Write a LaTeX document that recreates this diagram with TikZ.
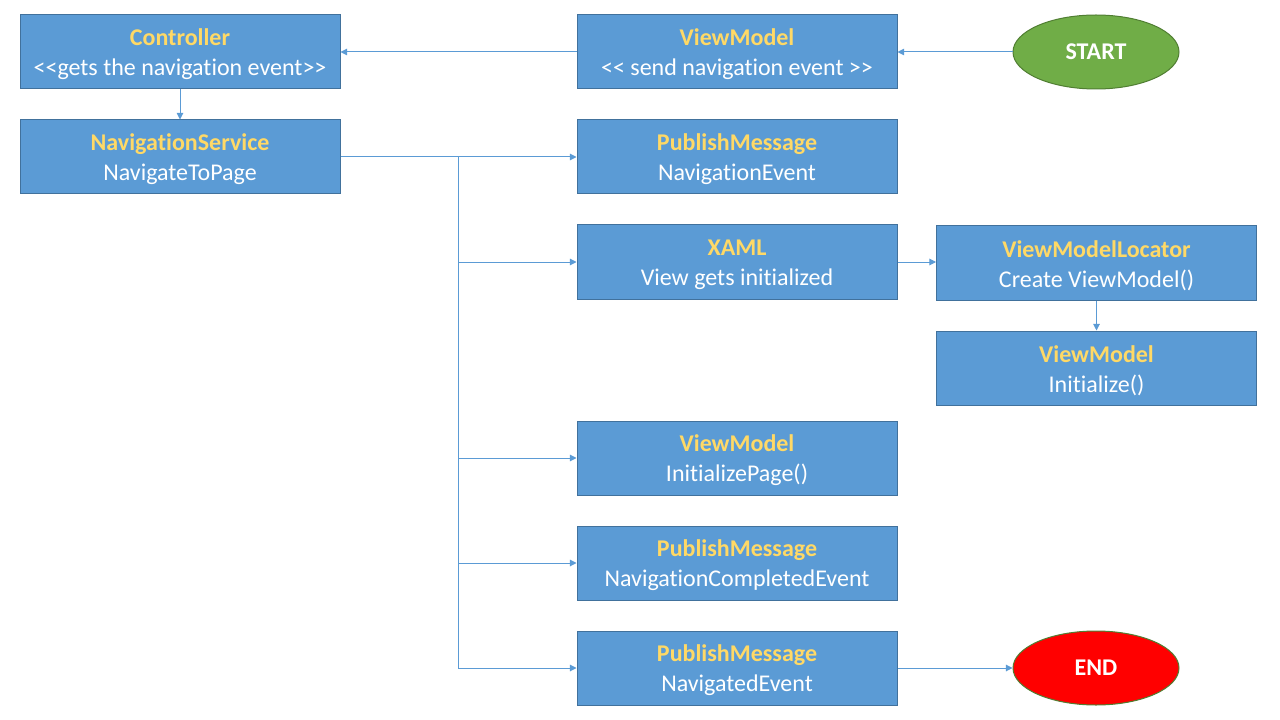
\documentclass[tikz,border=0pt]{standalone}
\usepackage{fontspec}
\setmainfont{Carlito}[Ligatures=NoCommon]
\usetikzlibrary{shapes.geometric,arrows.meta}
\definecolor{boxfill}{HTML}{5B9BD5}
\definecolor{boxline}{HTML}{41719C}
\definecolor{titleyel}{HTML}{FFD966}
\definecolor{startgreen}{HTML}{70AD47}
\definecolor{startline}{HTML}{507E32}
\definecolor{endred}{HTML}{FF0000}
\definecolor{conn}{HTML}{5B9BD5}
\tikzset{
  box/.style={draw=boxline, line width=0.75pt, fill=boxfill, minimum width=240pt, minimum height=55.5pt,
    inner sep=0pt, align=center, text=white, font=\fontsize{18}{22.5}\selectfont},
  oval/.style={ellipse, draw=startline, line width=0.75pt, minimum width=124.5pt, minimum height=55.5pt,
    inner sep=0pt, text=white, font=\fontsize{18}{22}\selectfont\bfseries},
  arr/.style={draw=conn, line width=0.75pt, -{Triangle[length=5pt,width=5pt]}},
}
\newcommand{\ttl}[1]{\rule{0pt}{16pt}\textcolor{titleyel}{\textbf{#1}}}
\begin{document}
\begin{tikzpicture}[x=0.75pt,y=-0.75pt]
\useasboundingbox (0,0) rectangle (1280,720);
\node[box] (ctrl) at (180,52) {\ttl{Controller}\\<{}<gets the navigation event>{}>};
\node[box] (vm1) at (737,52) {\ttl{ViewModel}\\<{}< send navigation event >{}>};
\node[oval, fill=startgreen] (start) at (1096,52) {START};
\node[box] (ns) at (180,157) {\ttl{NavigationService}\\NavigateToPage};
\node[box] (pm1) at (737,157) {\ttl{PublishMessage}\\NavigationEvent};
\node[box] (xaml) at (737,262) {\ttl{XAML}\\View gets initialized};
\node[box] (vml) at (1096.5,263) {\ttl{ViewModelLocator}\\Create ViewModel()};
\node[box] (vm2) at (1096.5,368) {\ttl{ViewModel}\\Initialize()};
\node[box] (vm3) at (737,458) {\ttl{ViewModel}\\InitializePage()};
\node[box] (pm2) at (737,563) {\ttl{PublishMessage}\\NavigationCompletedEvent};
\node[box] (pm3) at (737,668) {\ttl{PublishMessage}\\NavigatedEvent};
\node[oval, fill=endred] (end) at (1096,668) {END};
\coordinate (j) at (458,157);
\draw[arr] (start) -- (vm1);
\draw[arr] (vm1) -- (ctrl);
\draw[arr] (ctrl) -- (ns);
\draw[arr] (ns) -- (pm1);
\draw[arr] (j) |- (xaml.west);
\draw[arr] (j) |- (vm3.west);
\draw[arr] (j) |- (pm2.west);
\draw[arr] (j) |- (pm3.west);
\draw[arr] (xaml.east) -- (xaml.east -| vml.west);
\draw[arr] (vml) -- (vm2);
\draw[arr] (pm3) -- (end);
\end{tikzpicture}
\end{document}
